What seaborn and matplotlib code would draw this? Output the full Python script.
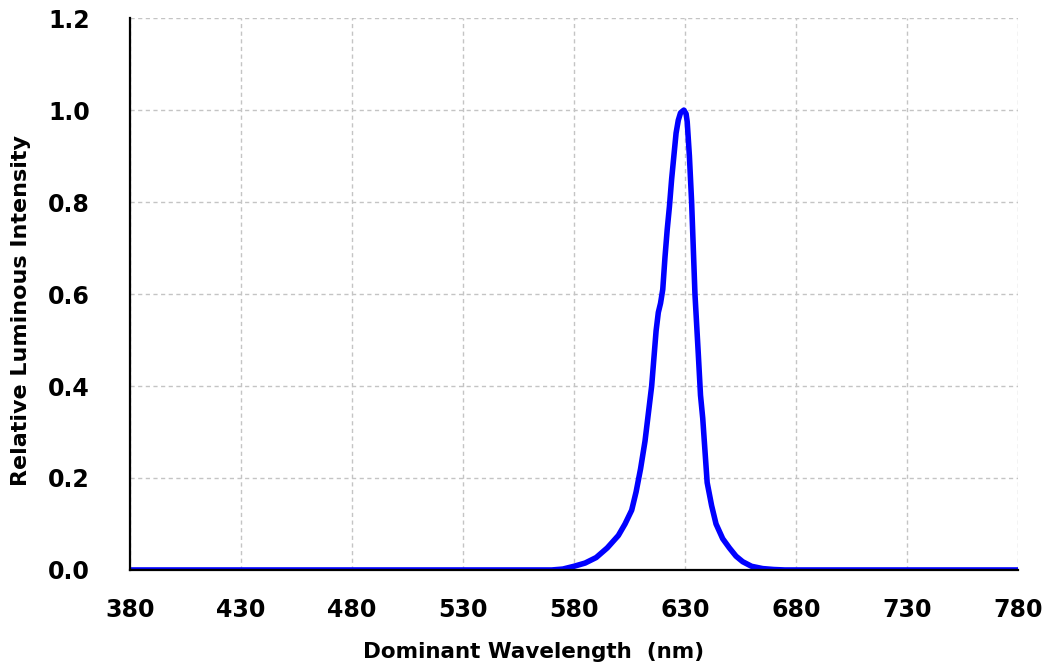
import matplotlib
matplotlib.use("Agg")
import matplotlib.pyplot as plt
from matplotlib.ticker import MultipleLocator
import seaborn as sns
import pandas as pd

wavelength = [380, 450, 500, 550, 570, 575, 580, 585, 590, 595, 600, 603, 606, 608,
              610, 612, 614, 615, 617, 618, 619, 620, 621, 622, 623, 624, 625, 626,
              627, 628, 629.5, 630.5, 631, 632, 633, 634.5, 636, 637, 638, 639, 640,
              642, 644, 647, 650, 653, 656, 660, 665, 670, 675, 700, 750, 780]
intensity = [0, 0, 0, 0, 0, 0.002, 0.008, 0.015, 0.027, 0.048, 0.075, 0.10, 0.13, 0.17,
             0.22, 0.28, 0.36, 0.40, 0.52, 0.56, 0.58, 0.61, 0.68, 0.74, 0.79, 0.85, 0.90, 0.95,
             0.978, 0.994, 1.0, 0.992, 0.975, 0.90, 0.80, 0.60, 0.47, 0.38, 0.33, 0.26, 0.19,
             0.14, 0.10, 0.068, 0.048, 0.03, 0.018, 0.008, 0.003, 0.001, 0, 0, 0, 0]

x_ticks = [380, 430, 480, 530, 580, 630, 680, 730, 780]
y_ticks = [0.0, 0.2, 0.4, 0.6, 0.8, 1.0, 1.2]

df = pd.DataFrame({"wl": wavelength, "rel": intensity})

sns.set_style("white")
plt.rcParams["font.family"] = ["DejaVu Sans"]

fig = plt.figure(figsize=(10.43, 6.70), dpi=100)
ax = fig.add_axes([0.1246, 0.1493, 0.976 - 0.1246, 0.973 - 0.1493])

sns.lineplot(data=df, x="wl", y="rel", ax=ax, color="#0000ff", linewidth=4.0)
for ln in ax.get_lines():
    ln.set_solid_joinstyle("round")
    ln.set_solid_capstyle("round")

ax.set_xlim(380, 780)
ax.set_ylim(0, 1.2)
ax.set_xticks(x_ticks)
ax.set_xticklabels([str(v) for v in x_ticks])
ax.set_yticks(y_ticks)
ax.set_yticklabels([f"{v:.1f}" for v in y_ticks])
ax.xaxis.set_minor_locator(MultipleLocator(25))
ax.yaxis.set_minor_locator(MultipleLocator(0.1))

ax.grid(True, which="major", color="#c4c4c4", linestyle=(0, (3, 2.5)), linewidth=1)
for s in ["top", "right"]:
    ax.spines[s].set_visible(False)
for s in ["left", "bottom"]:
    ax.spines[s].set_color("black")
    ax.spines[s].set_linewidth(1.6)

ax.tick_params(axis="both", which="major", direction="in", length=7, width=1.2,
               colors="black", labelcolor="black", labelsize=17)
ax.tick_params(axis="both", which="minor", direction="in", length=5, width=1.2, colors="black")
ax.tick_params(axis="x", which="major", pad=20)
ax.tick_params(axis="y", which="major", pad=29)
for lab in ax.get_xticklabels() + ax.get_yticklabels():
    lab.set_fontweight("bold")

ax.set_xlabel("Dominant Wavelength  (nm)", fontsize=15.5, fontweight="bold", color="black")
ax.set_ylabel("Relative Luminous Intensity", fontsize=16, fontweight="bold", color="black")
ax.xaxis.set_label_coords(0.455, -0.13)
ax.yaxis.set_label_coords(-0.111, 0.471)

fig.savefig("out.png", dpi=100)
